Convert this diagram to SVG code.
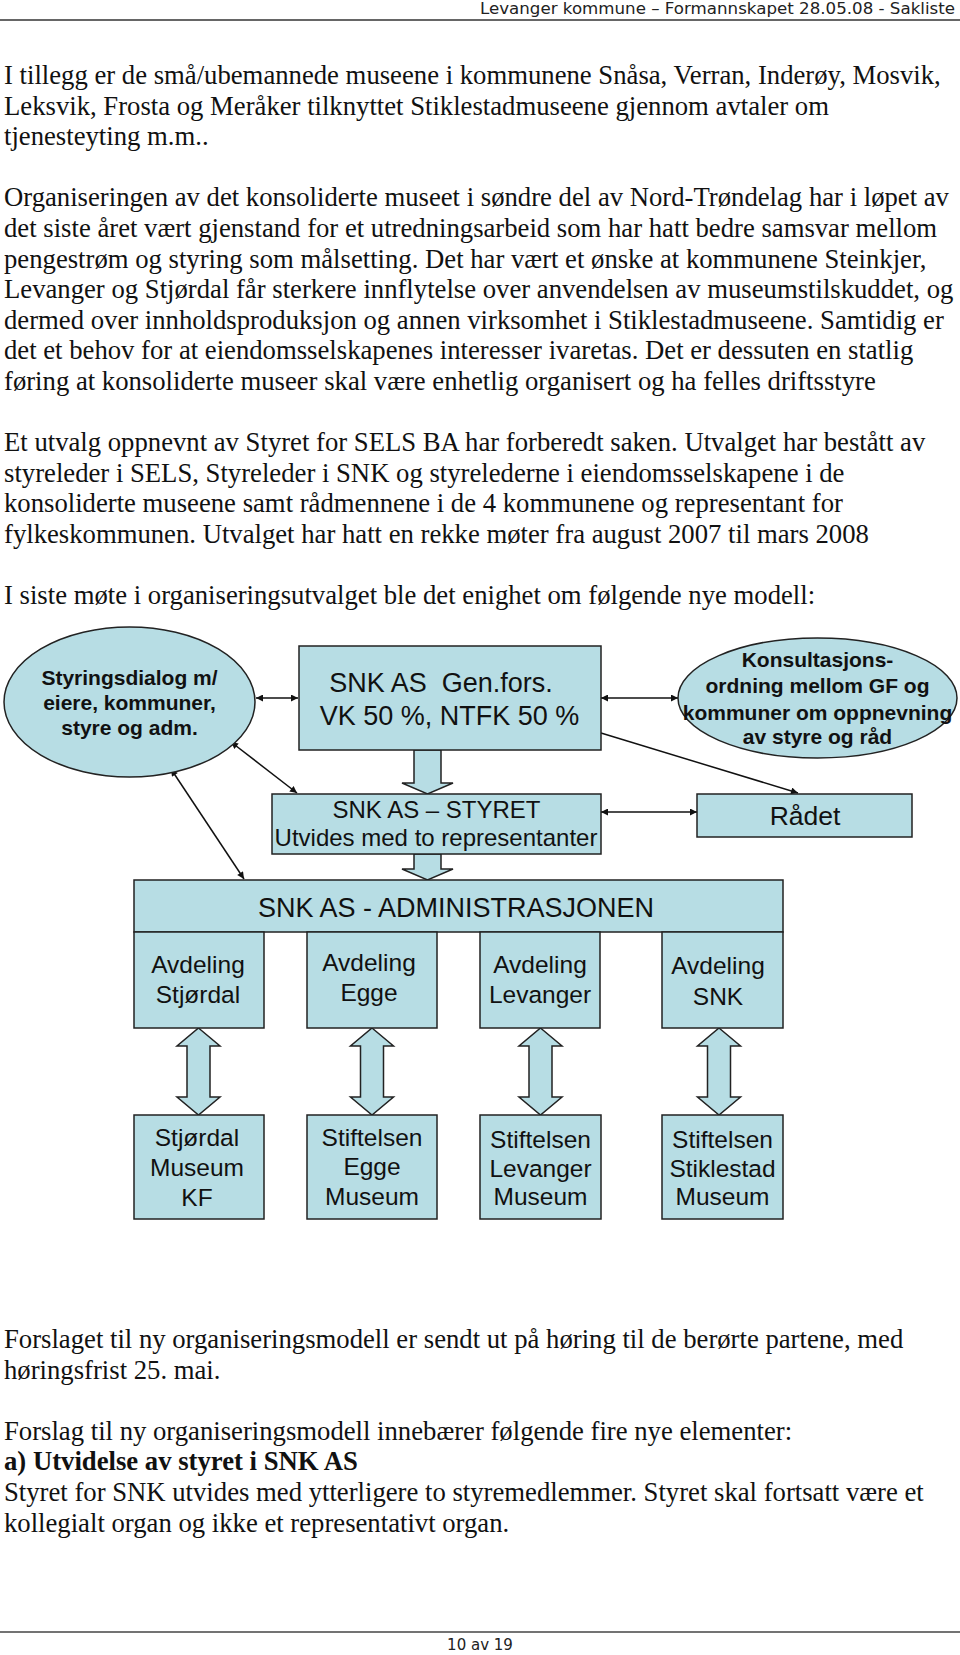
<svg xmlns="http://www.w3.org/2000/svg" width="960" height="1655" viewBox="0 0 960 1655">
<defs>
<style>
.body{font-family:"Liberation Serif","Times New Roman",serif;font-size:26.7px;fill:#111}
.bold{font-weight:bold}
.hdr{font-family:"DejaVu Sans",Verdana,sans-serif;font-size:15px;fill:#222}
.box{fill:#B7DDE4;stroke:#222;stroke-width:1.5}
.lbl{font-family:"Liberation Sans",Arial,sans-serif;fill:#111;text-anchor:middle}
.ell{font-family:"Liberation Sans",Arial,sans-serif;font-weight:bold;font-size:21px;fill:#111;text-anchor:middle}
.con{stroke:#111;stroke-width:1.5;fill:none}
</style>
<marker id="ah" viewBox="0 0 10 10" refX="10" refY="5" markerWidth="8" markerHeight="7" orient="auto-start-reverse" markerUnits="userSpaceOnUse">
<path d="M0,0 L10,5 L0,10 Z" fill="#111"/>
</marker>
</defs>
<rect width="960" height="1655" fill="#fff"/>

<g id="header">
<text class="hdr" x="480" y="14" textLength="475" lengthAdjust="spacingAndGlyphs">Levanger kommune – Formannskapet 28.05.08 - Sakliste</text>
<line x1="0" y1="20" x2="960" y2="20" stroke="#666" stroke-width="2"/>
</g>

<g id="text-top" class="body">
<text x="4" y="84">I tillegg er de små/ubemannede museene i kommunene Snåsa, Verran, Inderøy, Mosvik,</text>
<text x="4" y="114.6">Leksvik, Frosta og Meråker tilknyttet Stiklestadmuseene gjennom avtaler om</text>
<text x="4" y="145.2">tjenesteyting m.m..</text>
<text x="4" y="206.4">Organiseringen av det konsoliderte museet i søndre del av Nord-Trøndelag har i løpet av</text>
<text x="4" y="237">det siste året vært gjenstand for et utredningsarbeid som har hatt bedre samsvar mellom</text>
<text x="4" y="267.6">pengestrøm og styring som målsetting. Det har vært et ønske at kommunene Steinkjer,</text>
<text x="4" y="298.2">Levanger og Stjørdal får sterkere innflytelse over anvendelsen av museumstilskuddet, og</text>
<text x="4" y="328.8">dermed over innholdsproduksjon og annen virksomhet i Stiklestadmuseene. Samtidig er</text>
<text x="4" y="359.4">det et behov for at eiendomsselskapenes interesser ivaretas. Det er dessuten en statlig</text>
<text x="4" y="390">føring at konsoliderte museer skal være enhetlig organisert og ha felles driftsstyre</text>
<text x="4" y="451.2">Et utvalg oppnevnt av Styret for SELS BA har forberedt saken. Utvalget har bestått av</text>
<text x="4" y="481.8">styreleder i SELS, Styreleder i SNK og styrelederne i eiendomsselskapene i de</text>
<text x="4" y="512.4">konsoliderte museene samt rådmennene i de 4 kommunene og representant for</text>
<text x="4" y="543">fylkeskommunen. Utvalget har hatt en rekke møter fra august 2007 til mars 2008</text>
<text x="4" y="604.2">I siste møte i organiseringsutvalget ble det enighet om følgende nye modell:</text>
</g>

<g id="connectors">
<line class="con" x1="256" y1="698" x2="298" y2="698" marker-start="url(#ah)" marker-end="url(#ah)"/>
<line class="con" x1="601" y1="698" x2="678" y2="698" marker-start="url(#ah)" marker-end="url(#ah)"/>
<line class="con" x1="601" y1="812" x2="697" y2="812" marker-start="url(#ah)" marker-end="url(#ah)"/>
<line class="con" x1="601" y1="733" x2="798" y2="793" marker-end="url(#ah)"/>
<line class="con" x1="231" y1="742" x2="297" y2="793" marker-start="url(#ah)" marker-end="url(#ah)"/>
<line class="con" x1="171" y1="769" x2="244" y2="879" marker-start="url(#ah)" marker-end="url(#ah)"/>
<polygon class="box" points="414,750 441,750 441,783 453,783 427.5,794 402,783 414,783"/>
<polygon class="box" points="414,854 441,854 441,869 453,869 427.5,880 402,869 414,869"/>
<polygon class="box" points="198.5,1028 220,1046 210,1046 210,1097 220,1097 198.5,1115 177,1097 187,1097 187,1046 177,1046"/>
<polygon class="box" points="372,1028 393.5,1046 383.5,1046 383.5,1097 393.5,1097 372,1115 350.5,1097 360.5,1097 360.5,1046 350.5,1046"/>
<polygon class="box" points="540.5,1028 562,1046 552,1046 552,1097 562,1097 540.5,1115 519,1097 529,1097 529,1046 519,1046"/>
<polygon class="box" points="719,1028 740.5,1046 730.5,1046 730.5,1097 740.5,1097 719,1115 697.5,1097 707.5,1097 707.5,1046 697.5,1046"/>
</g>

<g id="styringsdialog">
<ellipse class="box" cx="129.5" cy="702" rx="125.5" ry="75"/>
<text class="ell" x="129.5" y="685">Styringsdialog m/</text>
<text class="ell" x="129.5" y="710">eiere, kommuner,</text>
<text class="ell" x="129.5" y="735">styre og adm.</text>
</g>

<g id="genfors">
<rect class="box" x="299" y="646" width="302" height="104"/>
<text class="lbl" x="441" y="692" font-size="27" xml:space="preserve">SNK AS  Gen.fors.</text>
<text class="lbl" x="449.5" y="725" font-size="27">VK 50 %, NTFK 50 %</text>
</g>

<g id="konsultasjon">
<ellipse class="box" cx="817.5" cy="698" rx="139.5" ry="60"/>
<text class="ell" x="817.5" y="667">Konsultasjons-</text>
<text class="ell" x="817.5" y="693">ordning mellom GF og</text>
<text class="ell" x="817.5" y="720">kommuner om oppnevning</text>
<text class="ell" x="817.5" y="744">av styre og råd</text>
</g>

<g id="styret">
<rect class="box" x="272" y="794" width="329" height="60"/>
<text class="lbl" x="436.5" y="818" font-size="24">SNK AS – STYRET</text>
<text class="lbl" x="436" y="846" font-size="24">Utvides med to representanter</text>
</g>

<g id="raadet">
<rect class="box" x="697" y="794" width="215" height="43"/>
<text class="lbl" x="805" y="825" font-size="26.5">Rådet</text>
</g>

<g id="administrasjon">
<rect class="box" x="134" y="880" width="649" height="52"/>
<text class="lbl" x="456" y="917" font-size="27">SNK AS - ADMINISTRASJONEN</text>
</g>

<g id="avd-stjordal">
<rect class="box" x="134" y="932" width="130" height="96"/>
<text class="lbl" x="198" y="973" font-size="24.5">Avdeling</text>
<text class="lbl" x="198" y="1003" font-size="24.5">Stjørdal</text>
</g>
<g id="avd-egge">
<rect class="box" x="307" y="932" width="130" height="96"/>
<text class="lbl" x="369" y="971" font-size="24.5">Avdeling</text>
<text class="lbl" x="369" y="1001" font-size="24.5">Egge</text>
</g>
<g id="avd-levanger">
<rect class="box" x="480" y="932" width="120" height="96"/>
<text class="lbl" x="540" y="973" font-size="24.5">Avdeling</text>
<text class="lbl" x="540" y="1003" font-size="24.5">Levanger</text>
</g>
<g id="avd-snk">
<rect class="box" x="662" y="932" width="121" height="96"/>
<text class="lbl" x="718" y="974" font-size="24.5">Avdeling</text>
<text class="lbl" x="718" y="1005" font-size="24.5">SNK</text>
</g>

<g id="mus-stjordal">
<rect class="box" x="134" y="1115" width="130" height="104"/>
<text class="lbl" x="197" y="1146" font-size="24.5">Stjørdal</text>
<text class="lbl" x="197" y="1176" font-size="24.5">Museum</text>
<text class="lbl" x="197" y="1206" font-size="24.5">KF</text>
</g>
<g id="mus-egge">
<rect class="box" x="307" y="1115" width="130" height="104"/>
<text class="lbl" x="372" y="1146" font-size="24.5">Stiftelsen</text>
<text class="lbl" x="372" y="1175" font-size="24.5">Egge</text>
<text class="lbl" x="372" y="1205" font-size="24.5">Museum</text>
</g>
<g id="mus-levanger">
<rect class="box" x="480" y="1115" width="121" height="104"/>
<text class="lbl" x="540.5" y="1148" font-size="24.5">Stiftelsen</text>
<text class="lbl" x="540.5" y="1177" font-size="24.5">Levanger</text>
<text class="lbl" x="540.5" y="1205" font-size="24.5">Museum</text>
</g>
<g id="mus-stiklestad">
<rect class="box" x="662" y="1115" width="121" height="104"/>
<text class="lbl" x="722.5" y="1148" font-size="24.5">Stiftelsen</text>
<text class="lbl" x="722.5" y="1177" font-size="24.5">Stiklestad</text>
<text class="lbl" x="722.5" y="1205" font-size="24.5">Museum</text>
</g>

<g id="text-bottom" class="body">
<text x="4" y="1348">Forslaget til ny organiseringsmodell er sendt ut på høring til de berørte partene, med</text>
<text x="4" y="1378.6">høringsfrist 25. mai.</text>
<text x="4" y="1439.8">Forslag til ny organiseringsmodell innebærer følgende fire nye elementer:</text>
<text x="4" y="1470.4" class="bold">a) Utvidelse av styret i SNK AS</text>
<text x="4" y="1501">Styret for SNK utvides med ytterligere to styremedlemmer. Styret skal fortsatt være et</text>
<text x="4" y="1531.6">kollegialt organ og ikke et representativt organ.</text>
</g>

<g id="footer">
<line x1="0" y1="1632" x2="960" y2="1632" stroke="#444" stroke-width="1.5"/>
<text class="hdr" x="480" y="1650" text-anchor="middle">10 av 19</text>
</g>
</svg>
